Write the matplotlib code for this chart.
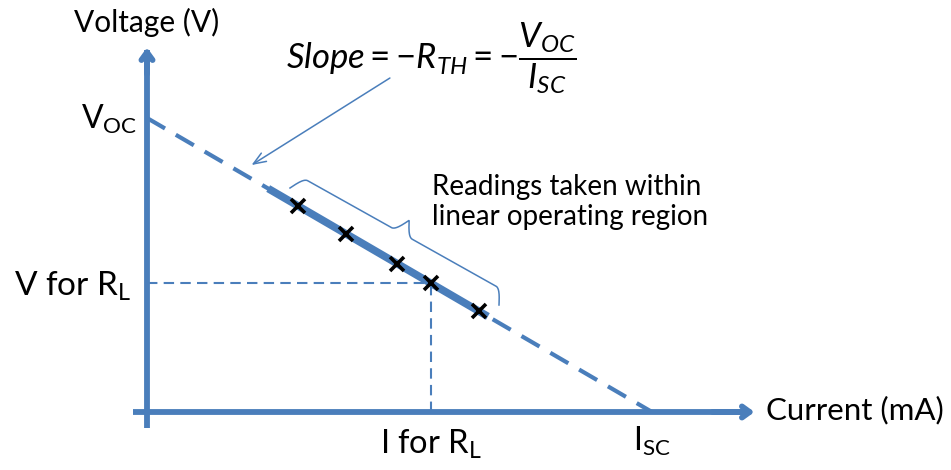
import numpy as np
import matplotlib
matplotlib.use("Agg")
import matplotlib.pyplot as plt
from matplotlib.transforms import IdentityTransform

plt.rcParams['font.family'] = ['Lato', 'DejaVu Sans']
plt.rcParams['mathtext.fontset'] = 'custom'
plt.rcParams['mathtext.rm'] = 'Lato'
plt.rcParams['mathtext.it'] = 'Lato:italic'

# ---- data (conceptual units) ----
V_OC = 10.0          # open-circuit voltage
I_SC = 10.0          # short-circuit current
reading_I = [3.0, 3.95, 4.95, 5.62, 6.57]
reading_V = [7.0, 6.05, 5.05, 4.38, 3.43]
linear_I = [2.4, 6.75]           # solid (linear region) segment
load_point = (5.62, 4.38)        # I for R_L, V for R_L

BLUE = '#4a7ebb'

fig = plt.figure(figsize=(9.51, 4.70), dpi=100)
ax = fig.add_axes([0, 0, 1, 1])
# map: pixel x = 147 + 50.5*I ; pixel y = 412 - 29.4*V
ax.set_xlim(-147 / 50.5, (951 - 147) / 50.5)
ax.set_ylim(-(470 - 412) / 29.4, 412 / 29.4)
ax.axis('off')

def vline(i):
    return V_OC * (1 - i / I_SC)

# axes with arrows
ax.plot([0, 0], [-0.54, 12.3], color=BLUE, lw=4.2, solid_capstyle='butt')
ax.plot([-0.28, 11.9], [0, 0], color=BLUE, lw=4.2, solid_capstyle='butt')
ax.annotate('', xy=(0, 12.4), xytext=(0, 11.5),
            arrowprops=dict(arrowstyle='->,head_length=0.55,head_width=0.4',
                            color=BLUE, lw=4.2, shrinkA=0, shrinkB=0))
ax.annotate('', xy=(12.03, 0), xytext=(11.2, 0),
            arrowprops=dict(arrowstyle='->,head_length=0.55,head_width=0.4',
                            color=BLUE, lw=4.2, shrinkA=0, shrinkB=0))

# dashed load line
ii = np.array([0, I_SC])
ax.plot(ii, [vline(0), vline(I_SC)], color=BLUE, lw=3, ls=(0, (5, 3)))
# solid linear region
li = np.array(linear_I)
ax.plot(li, vline(li), color=BLUE, lw=5.5, solid_capstyle='butt')

# guide lines to load point
ax.plot([0, load_point[0]], [load_point[1], load_point[1]], color=BLUE, lw=1.5,
        ls=(0, (5, 3)))
ax.plot([load_point[0], load_point[0]], [0, load_point[1]], color=BLUE, lw=1.5,
        ls=(0, (5, 3)))

# readings
ax.plot(reading_I, reading_V, ls='none', marker='x', color='black', ms=10, mew=2.6)

# brace (drawn in display coords)
def brace(p0, p1, h):
    p0 = np.array(p0, float); p1 = np.array(p1, float)
    d = p1 - p0
    L = np.hypot(*d)
    u = d / L
    n = np.array([-u[1], u[0]])
    if n[1] < 0:
        n = -n
    t = np.linspace(0, 1, 600)
    q = 0.10
    prof = np.zeros_like(t)
    for k, tt in enumerate(t):
        s = tt if tt <= 0.5 else 1 - tt
        s = s / 0.5
        if s < q:
            prof[k] = h * 0.5 * np.sin(np.pi / 2 * s / q)
        elif s > 1 - q:
            prof[k] = h * 0.5 + h * 0.5 * (1 - np.cos(np.pi / 2 * (s - (1 - q)) / q))
        else:
            prof[k] = h * 0.5
    pts = p0[None, :] + np.outer(t * L, u) + np.outer(prof, n)
    return pts

p0d = np.array([290, 470 - 188], float)
p1d = np.array([499, 470 - 305], float)
pts = brace(p0d, p1d, 30)
ax.plot(pts[:, 0], pts[:, 1], color=BLUE, lw=1.1, transform=IdentityTransform())

# slope arrow
ax.annotate('', xy=(2.07, 8.4), xytext=(4.81, 11.36),
            arrowprops=dict(arrowstyle='->,head_length=0.9,head_width=0.35',
                            color=BLUE, lw=1.1, shrinkA=0, shrinkB=0))

# texts
ax.text(0, 13.25, 'Voltage (V)', ha='center', va='center', fontsize=21.5)
ax.text(12.25, 0.05, 'Current (mA)', ha='left', va='center', fontsize=22.5)
ax.text(-0.2, V_OC - 0.05, r'V$_{\mathrm{OC}}$', ha='right', va='center', fontsize=23)
ax.text(-0.32, load_point[1] - 0.1, r'V for R$_{\mathrm{L}}$', ha='right', va='center', fontsize=24)
ax.text(load_point[0], -1.1, r'I for R$_{\mathrm{L}}$', ha='center', va='center', fontsize=23.5)
ax.text(I_SC, -1.0, r'I$_{\mathrm{SC}}$', ha='center', va='center', fontsize=23)
ax.text(5.64, 7.15, 'Readings taken within\nlinear operating region', ha='left',
        va='center', fontsize=20, linespacing=1.2)
ax.text(2.75, 12.05, r'$Slope = -R_{TH} = -\dfrac{V_{OC}}{I_{SC}}$', ha='left',
        va='center', fontsize=25)

fig.savefig('out.png', dpi=100)
